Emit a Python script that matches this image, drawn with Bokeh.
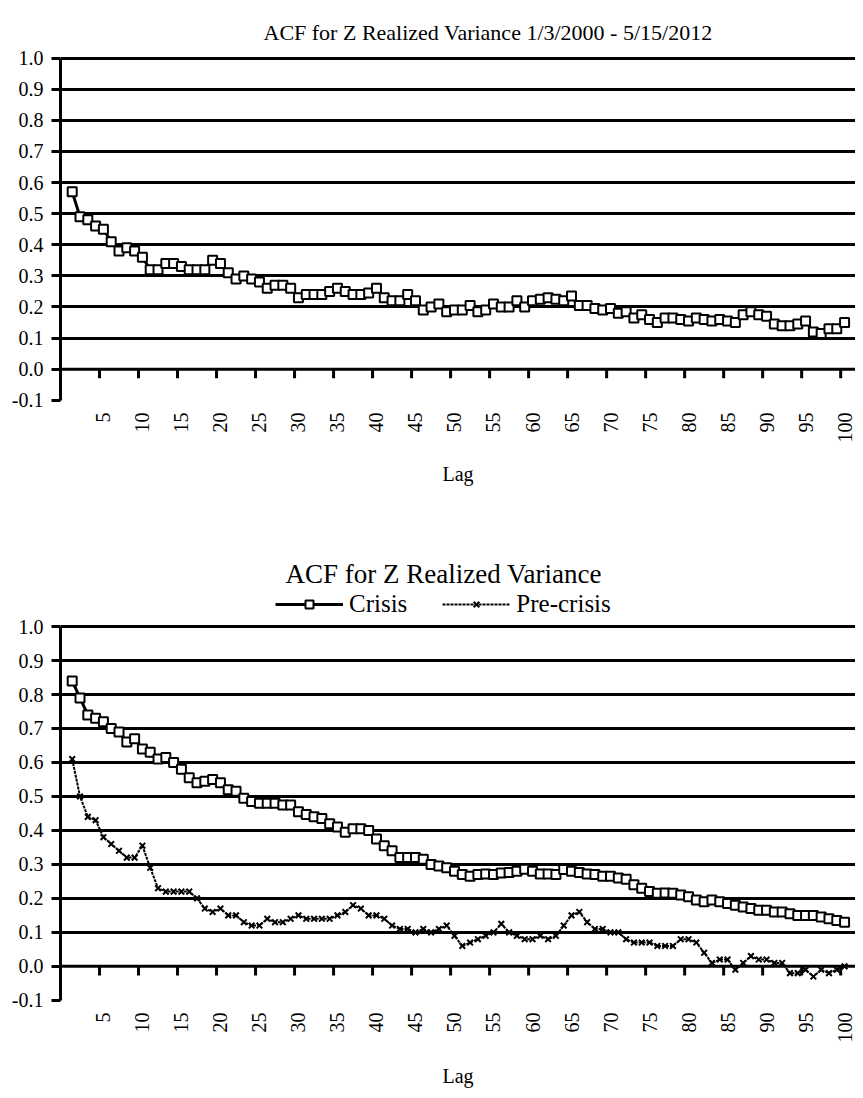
import math
from bokeh.plotting import figure
from bokeh.models import (FixedTicker, Span, Legend, LegendItem, Title, Range1d,
                          PrintfTickFormatter)
from bokeh.layouts import column
from bokeh.embed import file_html
from bokeh.resources import INLINE

FONT = "Liberation Serif"

lags = list(range(1, 101))

acf_full = [0.57, 0.49, 0.48, 0.46, 0.45, 0.41, 0.38, 0.39, 0.38, 0.36,
            0.32, 0.32, 0.34, 0.34, 0.33, 0.32, 0.32, 0.32, 0.35, 0.34,
            0.31, 0.29, 0.30, 0.29, 0.28, 0.26, 0.27, 0.27, 0.26, 0.23,
            0.24, 0.24, 0.24, 0.25, 0.26, 0.25, 0.24, 0.24, 0.245, 0.26,
            0.23, 0.22, 0.22, 0.24, 0.22, 0.19, 0.20, 0.21, 0.185, 0.19,
            0.19, 0.205, 0.185, 0.19, 0.21, 0.20, 0.20, 0.22, 0.20, 0.22,
            0.225, 0.23, 0.225, 0.22, 0.235, 0.205, 0.205, 0.195, 0.19, 0.195,
            0.18, 0.185, 0.165, 0.175, 0.16, 0.15, 0.165, 0.165, 0.16, 0.155,
            0.165, 0.16, 0.155, 0.16, 0.155, 0.15, 0.175, 0.185, 0.175, 0.17,
            0.145, 0.14, 0.14, 0.145, 0.155, 0.12, 0.115, 0.13, 0.13, 0.15]

acf_crisis = [0.84, 0.79, 0.74, 0.73, 0.72, 0.70, 0.69, 0.66, 0.67, 0.64,
              0.63, 0.61, 0.615, 0.60, 0.58, 0.555, 0.54, 0.545, 0.55, 0.54,
              0.52, 0.515, 0.495, 0.485, 0.48, 0.48, 0.48, 0.475, 0.475, 0.455,
              0.447, 0.44, 0.435, 0.42, 0.41, 0.395, 0.405, 0.405, 0.40, 0.375,
              0.355, 0.34, 0.32, 0.32, 0.32, 0.315, 0.30, 0.295, 0.29, 0.28,
              0.27, 0.265, 0.27, 0.272, 0.27, 0.275, 0.276, 0.28, 0.286, 0.28,
              0.272, 0.272, 0.27, 0.285, 0.28, 0.276, 0.272, 0.27, 0.265, 0.265,
              0.26, 0.256, 0.24, 0.23, 0.22, 0.215, 0.216, 0.215, 0.21, 0.205,
              0.195, 0.19, 0.195, 0.19, 0.185, 0.18, 0.175, 0.17, 0.165, 0.165,
              0.16, 0.16, 0.155, 0.15, 0.15, 0.15, 0.145, 0.14, 0.135, 0.13]

acf_precrisis = [0.61, 0.50, 0.44, 0.43, 0.38, 0.36, 0.34, 0.32, 0.32, 0.355,
                 0.29, 0.23, 0.22, 0.22, 0.22, 0.22, 0.20, 0.17, 0.16, 0.17,
                 0.15, 0.15, 0.13, 0.12, 0.12, 0.14, 0.13, 0.13, 0.14, 0.15,
                 0.14, 0.14, 0.14, 0.14, 0.15, 0.16, 0.18, 0.17, 0.15, 0.15,
                 0.14, 0.12, 0.11, 0.11, 0.10, 0.11, 0.10, 0.11, 0.12, 0.09,
                 0.06, 0.07, 0.08, 0.09, 0.10, 0.125, 0.10, 0.09, 0.08, 0.08,
                 0.09, 0.08, 0.09, 0.12, 0.15, 0.16, 0.13, 0.11, 0.11, 0.10,
                 0.10, 0.08, 0.07, 0.07, 0.07, 0.06, 0.06, 0.06, 0.08, 0.08,
                 0.07, 0.04, 0.01, 0.02, 0.02, -0.01, 0.01, 0.03, 0.02, 0.02,
                 0.01, 0.01, -0.02, -0.02, -0.01, -0.03, -0.01, -0.02, -0.01, 0.00]

x_label_lags = [5, 10, 15, 20, 25, 30, 35, 40, 45, 50,
                55, 60, 65, 70, 75, 80, 85, 90, 95, 100]
y_ticks = [-0.1, 0.0, 0.1, 0.2, 0.3, 0.4, 0.5, 0.6, 0.7, 0.8, 0.9, 1.0]
grid_vals = [0.1, 0.2, 0.3, 0.4, 0.5, 0.6, 0.7, 0.8, 0.9, 1.0]

title_top = "ACF for Z Realized Variance 1/3/2000 - 5/15/2012"
title_bottom = "ACF for Z Realized Variance"
series_names = ["Crisis", "Pre-crisis"]


def make_fig(height, min_top, min_bottom, y_end, tick_len, lag_standoff):
    p = figure(width=855, height=height,
               x_range=Range1d(-0.5, 101.4), y_range=Range1d(-0.1005, y_end),
               output_backend="svg", toolbar_location=None,
               min_border_left=60, min_border_right=0,
               min_border_top=min_top, min_border_bottom=min_bottom,
               outline_line_color=None, background_fill_color="white",
               border_fill_color="white")
    p.xgrid.visible = False
    p.ygrid.ticker = FixedTicker(ticks=grid_vals)
    p.ygrid.grid_line_color = "black"
    p.ygrid.grid_line_width = 3

    p.yaxis.ticker = FixedTicker(ticks=y_ticks)
    p.yaxis.bounds = (-0.1, 1.0)
    p.yaxis.formatter = PrintfTickFormatter(format="%.1f")
    p.yaxis.axis_line_width = 3
    p.yaxis.axis_line_color = "black"
    p.yaxis.major_tick_line_width = 3
    p.yaxis.major_tick_line_color = "black"
    p.yaxis.major_tick_out = 9
    p.yaxis.major_tick_in = 0
    p.yaxis.minor_tick_line_color = None
    p.yaxis.major_label_text_font = FONT
    p.yaxis.major_label_text_font_size = "20px"
    p.yaxis.major_label_text_color = "black"
    p.yaxis.major_label_standoff = 8

    p.xaxis.ticker = FixedTicker(ticks=x_label_lags)
    p.xaxis.major_label_orientation = math.pi / 2
    p.xaxis.axis_line_color = None
    p.xaxis.major_tick_line_color = None
    p.xaxis.minor_tick_line_color = None
    p.xaxis.major_label_text_font = FONT
    p.xaxis.major_label_text_font_size = "20px"
    p.xaxis.major_label_text_color = "black"
    p.xaxis.major_label_standoff = 6
    p.xaxis.axis_label = "Lag"
    p.xaxis.axis_label_text_font = FONT
    p.xaxis.axis_label_text_font_size = "20px"
    p.xaxis.axis_label_text_font_style = "normal"
    p.xaxis.axis_label_text_color = "black"
    p.xaxis.axis_label_standoff = lag_standoff

    # category-boundary tick marks hanging from the 0.0 line
    tick_x = [v - 0.5 for v in x_label_lags]
    p.segment(x0=tick_x, y0=[0] * len(tick_x), x1=tick_x,
              y1=[-tick_len] * len(tick_x), line_width=3, line_color="black")
    p.add_layout(Span(location=0, dimension="width", line_color="black",
                      line_width=3))
    return p


# ---- top chart: frame 64..408 px
p1 = make_fig(531, 56, 131, 1.005, 0.029, 17)
p1.title = Title(text=title_top, align="left", offset=203, standoff=24,
                 text_font=FONT, text_font_size="22px",
                 text_font_style="normal", text_color="black")
p1.line(lags, acf_full, line_color="black", line_width=3)
p1.scatter(lags, acf_full, marker="square", size=9, line_color="black",
           line_width=2, fill_color="white")

# ---- bottom chart (frame extends above 1.0 to host the legend)
p2 = make_fig(558, 57, 87, 1.112, 0.027, 19)
p2.title = Title(text=title_bottom, align="left", offset=225, standoff=0,
                 text_font=FONT, text_font_size="27px",
                 text_font_style="normal", text_color="black")
l_c = p2.line(lags, acf_crisis, line_color="black", line_width=3)
s_c = p2.scatter(lags, acf_crisis, marker="square", size=9, line_color="black",
                 line_width=2, fill_color="white")
l_p = p2.line(lags, acf_precrisis, line_color="black", line_width=2,
              line_dash="3 1")
s_p = p2.scatter(lags, acf_precrisis, marker="x", size=8, line_color="black",
                 line_width=2)

legend = Legend(items=[LegendItem(label=series_names[0], renderers=[l_c, s_c]),
                       LegendItem(label=series_names[1], renderers=[l_p, s_p])],
                orientation="horizontal", location=(215, 382),
                label_text_font=FONT, label_text_font_size="25px",
                label_text_color="black", glyph_width=68, glyph_height=20,
                label_standoff=6, spacing=35, padding=0, margin=0,
                border_line_color=None, background_fill_alpha=0)
p2.add_layout(legend, "center")

layout = column(p1, p2, spacing=0)
open("out.html", "w").write(file_html(layout, INLINE))
